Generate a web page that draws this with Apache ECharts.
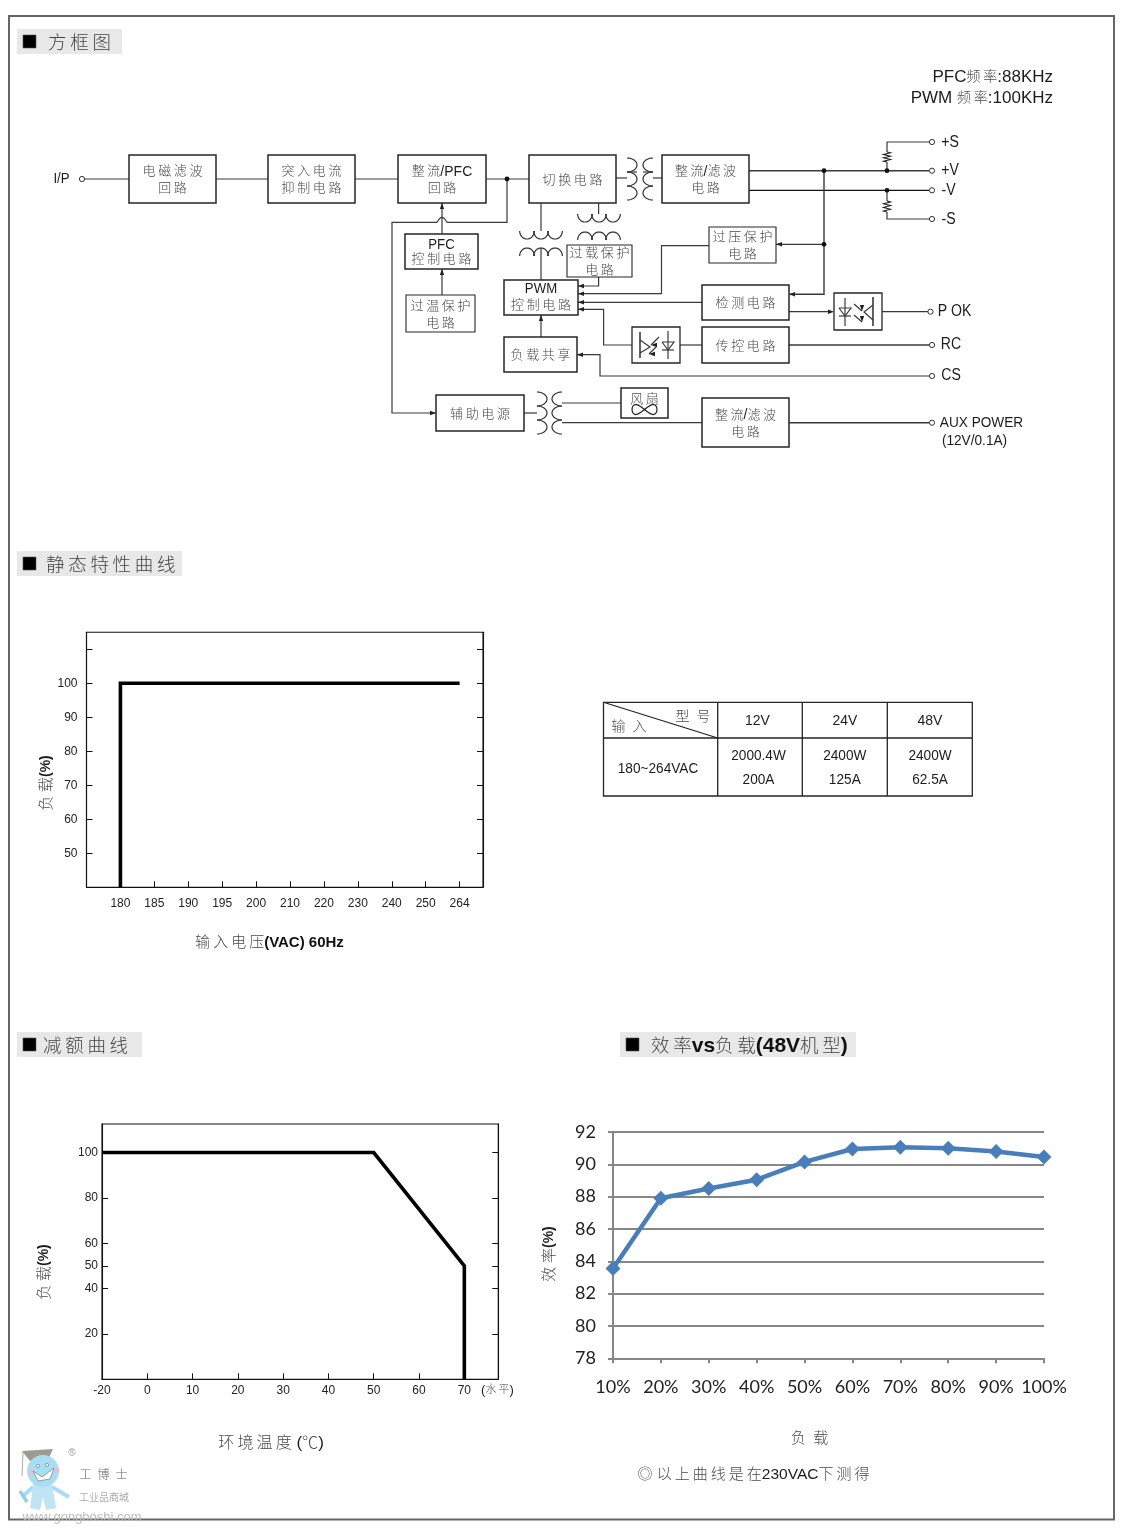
<!DOCTYPE html>
<html><head><meta charset="utf-8">
<style>html,body{margin:0;padding:0;background:#fff}#c{width:1147px;height:1537px}</style>
<script src="https://cdn.jsdelivr.net/npm/echarts@6/dist/echarts.min.js"></script>
</head><body><div id="c"></div>
<script>
// ---- chart data ----
const voltageLabels = ['180','185','190','195','200','210','220','230','240','250','264'];
const staticVoltage = ['180','180','264'];
const staticLoad = [40,100,100];
const staticLoadTicks = [50,60,70,80,90,100];
const staticExtraTick = [110];

const tempLabels = ['-20','0','10','20','30','40','50','60','70'];
const deratingTemp = ['-20','50','70','70'];
const deratingLoad = [100,100,50,0];
const deratingLoadTicks = [20,40,50,60,80,100];

const effLoadLabels = ['10%','20%','30%','40%','50%','60%','70%','80%','90%','100%'];
const effValues = [83.55,87.9,88.5,89.05,90.15,90.95,91.05,91.0,90.8,90.45];

// ---- text content ----
const sectionTitles = ['方框图','静态特性曲线','减额曲线','效率vs负载(48V机型)'];
const tableHeader = ['12V','24V','48V'];
const tableInput = '180~264VAC';
const tablePower = ['2000.4W','2400W','2400W'];
const tableCurrent = ['200A','125A','62.5A'];

const LAT = '"Liberation Sans",Arial,sans-serif';
const CJK = '"Noto Sans CJK SC",sans-serif';
const els = [];
const isCJK = c => /[\u3000-\u9fff◎℃]/.test(c);

function T(text, x, y, size, o) {
  o = o || {};
  const runs = [];
  for (const ch of text) {
    const k = isCJK(ch) ? 'c' : 'l';
    if (runs.length && runs[runs.length-1].k === k) runs[runs.length-1].s += ch;
    else runs.push({k, s: ch});
  }
  const gap = o.gap === undefined ? '\u2009' : o.gap;
  const latSize = o.latSize || size;
  const mixed = runs.length > 1;
  const latinOnly = runs.length === 1 && runs[0].k === 'l';
  const rich = {
    c: {fontFamily: CJK, fontSize: size, fill: o.cjkColor || '#4a4a4a', fontWeight: 300},
    l: {fontFamily: LAT, fontSize: latSize, fill: o.latColor || '#1c1c1c', fontWeight: o.latBold ? 'bold' : 'normal',
        padding: mixed ? [3,0,0,0] : 0}
  };
  const str = runs.map(r => {
    const t = r.k === 'c' ? Array.from(r.s).join(gap) : r.s;
    return '{' + r.k + '|' + t + '}';
  }).join('');
  const sx = o.sx || (latinOnly ? 0.88 : 1);
  els.push({type:'text', silent:true, x, y, rotation:o.rot||0, scaleX:sx, z:30,
    style:{text:str, rich, align:o.align||'center', verticalAlign:'middle'}});
}
function W(pts, w, c) {
  els.push({type:'polyline', silent:true, z:10, shape:{points:pts},
    style:{stroke:c||'#3a3a3a', lineWidth:w||1.2, fill:null}});
}
function R(x0,y0,x1,y1,w,fill,stroke) {
  els.push({type:'rect', silent:true, z:fill?5:12, shape:{x:x0,y:y0,width:x1-x0,height:y1-y0},
    style:{stroke:stroke===undefined?'#262626':stroke, lineWidth:w===undefined?1.4:w, fill:fill||null}});
}
function Dot(x,y,r) { els.push({type:'circle',silent:true,z:15,shape:{cx:x,cy:y,r:r||2.4},style:{fill:'#111'}}); }
function Term(x,y) { els.push({type:'circle',silent:true,z:15,shape:{cx:x,cy:y,r:2.6},style:{fill:'#fff',stroke:'#333',lineWidth:1}}); }
function Arrow(x,y,d) {
  const a=6,b=2.2;
  const p = d==='l'?[[x,y],[x+a,y-b],[x+a,y+b]]:d==='r'?[[x,y],[x-a,y-b],[x-a,y+b]]:d==='u'?[[x,y],[x-b,y+a],[x+b,y+a]]:[[x,y],[x-b,y-a],[x+b,y-a]];
  els.push({type:'polygon',silent:true,z:15,shape:{points:p},style:{fill:'#222'}});
}
function HCoil(x0,yBase,n,bw,h,dir) {
  for(let i=0;i<n;i++){ const p=[]; const cx=x0+bw*(i+.5);
    for(let t=0;t<=16;t++){const a=Math.PI*t/16; p.push([cx-bw/2*1.05*Math.cos(a), yBase+dir*h*Math.sin(a)]);}
    W(p,1.2,'#333'); }
}
function VCoil(xBase,y0,n,bh,w,dir) {
  for(let i=0;i<n;i++){ const p=[]; const cy=y0+bh*(i+.5);
    for(let t=0;t<=16;t++){const a=Math.PI*t/16; p.push([xBase+dir*w*Math.sin(a), cy-bh/2*Math.cos(a)]);}
    W(p,1.2,'#333'); }
}
function Resistor(x,y0,y1){
  const n=6, p=[[x,y0]]; const st=(y1-y0)/n;
  for(let i=0;i<n;i++){ p.push([x+(i%2?-3.5:3.5), y0+st*(i+.5)]); }
  p.push([x,y1]); W(p,1.1,'#222');
}
function Box(x0,y0,x1,y1,lines,o){
  R(x0,y0,x1,y1,(o&&o.w)||1.5);
  o=o||{};
  const cx=(x0+x1)/2, cy=(y0+y1)/2, size=o.size||13, dy=o.dy||17, ox=o.ox||0, oy=o.oy||0;
  lines.forEach((s,i)=>T(s,cx+ox,cy+oy+(i-(lines.length-1)/2)*dy,size,{latSize:o.latSize||14}));
}

// ---- page frame ----
R(9,16,1114,1519.5,2,null,'#666');

// ---- section headers ----
function Header(x0,x1,y0,sqx,title,tx,size,o){
  R(x0,y0,x1,y0+25,0,'#e8e8e8','transparent');
  els.push({type:'rect',silent:true,z:8,shape:{x:sqx,y:y0+6,width:13,height:13},style:{fill:'#000',stroke:'#555',lineWidth:.6}});
  T(title,tx,y0+13,size,Object.assign({align:'left',latBold:true,latColor:'#111',latSize:size,cjkColor:'#444'},o||{}));
}
Header(17,122,29,23,sectionTitles[0],48,18.5,{gap:'\u2009'});
Header(17,182,551,23,sectionTitles[1],46,18.5,{gap:'\u2009'});
Header(17,142,1032,23,sectionTitles[2],43,18.5,{gap:'\u2009'});
Header(620,856,1032,626,sectionTitles[3],651,18.5,{gap:'\u2009',latSize:21});

// ---- frequency note ----
T('PFC频率:88KHz',1053,76,14,{align:'right',latSize:17,gap:'\u2009'});
T('PWM 频率:100KHz',1053,97,14,{align:'right',latSize:17,gap:'\u2009'});

// ---- block diagram ----
T('I/P',61.5,179,14,{latSize:15});
Term(82,179);
W([[85,179],[129,179]]); W([[216,179],[268,179]]); W([[355,179],[398,179]]); W([[486,179],[529,179]]);
Dot(507,179);
Box(129,155,216,203,['电磁滤波','回路']);
Box(268,155,355,203,['突入电流','抑制电路']);
Box(398,155,486,203,['整流/PFC','回路'],{latSize:14});
Box(529,155,616,203,['切换电路'],{});
Box(662,155,749,203,['整流/滤波','电路']);
Box(405,234,478,269,['PFC','控制电路'],{dy:14,latSize:15});
Box(406,295,475,332,['过温保护','电路'],{w:1.1});
Box(504,280,578,315,['PWM','控制电路'],{dy:16,oy:-1,latSize:15});
Box(567,245,632,277,['过载保护','电路'],{w:1.1,dy:17,oy:0});
Box(709,227,776,263,['过压保护','电路'],{w:1.1});
Box(702,285,789,320,['检测电路']);
Box(702,327,789,363,['传控电路']);
Box(504,337,577,372,['负载共享']);
Box(436,395,524,431,['辅助电源']);
Box(702,398,789,447,['整流/滤波','电路']);
Box(621,388,668,418,['风扇'],{oy:-5});

// feed to aux supply with hump over the PFC line
W([[507,179],[507,222.3],[447,222.3]]);
(function(){const p=[];for(let t=0;t<=10;t++){const a=Math.PI*t/10;p.push([447-10*t/10,222.3-5*Math.sin(a)]);}W(p);})();
W([[437,222.3],[392,222.3],[392,413],[436,413]]);
Arrow(436,413,'r');
// PFC links
W([[442,234],[442,203]]); Arrow(442,203,'u');
W([[442,295],[442,269]]); Arrow(442,269,'u');
// switching to PWM transformer
W([[541,203],[541,231]]); HCoil(520,231,3,14,8,1);
HCoil(520,256,3,14,8,-1); W([[541,248],[541,280]]);
// switching to overload transformer
W([[598.6,203],[598.6,214]]); HCoil(578,214,3,14,8,1);
HCoil(578,240,3,14,8,-1);
W([[598.6,277],[598.6,286],[578,286]]); Arrow(578,286,'l');
// main transformer
W([[616,178],[627,178]]); VCoil(627,158,3,14,10,1); VCoil(653,158,3,14,-10,1); W([[653,178],[662,178]]);
W([[627,172],[637,172]]); W([[643,172],[653,172]]);
// outputs
W([[749,170.7],[929,170.7]],1.5); W([[749,190.3],[929,190.3]],1.2,'#111');
Dot(824,170.7); Dot(824,244.3); Dot(887,170.7); Dot(887,190.3);
W([[824,170.7],[824,294.3],[790,294.3]],1.4); Arrow(789,294.3,'l');
W([[824,244.3],[776,244.3]]); Arrow(776,244.3,'l');
W([[929,142],[887,142],[887,152]]); Resistor(887,152,162); W([[887,162],[887,170.7]]);
W([[887,190.3],[887,201]]); Resistor(887,201,212); W([[887,212],[887,219],[929,219]]);
[142,170.7,190.3,219].forEach(y=>Term(932,y));
T('+S',950,142.5,14,{latSize:16}); T('+V',950,170.5,14,{latSize:16}); T('-V',948.5,190.5,14,{latSize:16}); T('-S',948.5,219.5,14,{latSize:16});
// feedback wires into PWM
W([[709,245.7],[661.5,245.7],[661.5,293.7],[578,293.7]]); Arrow(578,293.7,'l');
W([[702,302.3],[578,302.3]]); Arrow(578,302.3,'l');
W([[632,345],[603.6,345],[603.6,309.3],[578,309.3]]); Arrow(578,309.3,'l');
W([[541,337],[541,315]]); Arrow(541,315,'u');
// optocouplers
function Opto(x0,y0,x1,y1){ R(x0,y0,x1,y1,1.3); }
Opto(632,327,680,363);
W([[640,332],[640,358]],1.6);
W([[640,340],[650,347],[640,353]]);
W([[668,331],[668,359]]);
W([[662,342],[674,342],[668,350],[662,342]]); W([[662,350],[674,350]]);
W([[659,337],[651,345]]); Arrow(651,345,'l'); W([[656,347],[649,354]]); Arrow(649,354,'l');
W([[680,345],[702,345]]);
Opto(834,293,882,330);
W([[845,298],[845,326]]);
W([[839,308],[851,308],[845,316],[839,308]]); W([[839,316],[851,316]]);
W([[873,297],[873,326]],1.6);
W([[873,305],[864,312],[873,320]]);
W([[854,304],[862,311]]); Arrow(862,311,'d'); W([[854,315],[862,322]]); Arrow(862,322,'d');
W([[789,311.7],[828,311.7]]); Arrow(834,311.7,'r');
W([[882,311.7],[928,311.7]]); Term(930.5,311.7);
T('P OK',954.5,311.5,14,{latSize:16});
W([[789,345],[929,345]],1.4); Term(932,345); T('RC',951,344.5,14,{latSize:16});
W([[577,354.7],[600,354.7],[600,376],[929,376]]); Arrow(577,354.7,'l'); Term(932,376); T('CS',951,375.5,14,{latSize:16});
// aux transformer
W([[524,413],[537,413]]); VCoil(537,392,3,14,10,1); VCoil(562,392,3,14,-10,1);
W([[562,403],[621,403]]); W([[562,422.7],[702,422.7]]);
W([[789,422.7],[929,422.7]],1.4); Term(932,422.7);
T('AUX POWER',981.5,422.5,14,{latSize:15.5}); T('(12V/0.1A)',974.5,440.5,14,{latSize:15.5});
// fan glyph
(function(){ const p=[]; for(let t=0;t<=24;t++){const a=2*Math.PI*t/24; p.push([644.5+12.5*Math.sin(a), 409.5-5*Math.sin(2*a)]);} W(p,1.2,'#222'); })();

// ---- table ----
const tx=[603.5,717.7,802.3,887.3,972.3], ty=[702.3,738,796];
R(tx[0],ty[0],tx[4],ty[2],1.3);
W([[tx[1],ty[0]],[tx[1],ty[2]]],1.3,'#222'); W([[tx[2],ty[0]],[tx[2],ty[2]]],1.3,'#222'); W([[tx[3],ty[0]],[tx[3],ty[2]]],1.3,'#222');
W([[tx[0],ty[1]],[tx[4],ty[1]]],1.3,'#222');
W([[tx[0],ty[0]],[tx[1],ty[1]]],1.2,'#222');
T('型号',693,716,14,{gap:'\u2002'}); T('输入',629,726,14,{gap:'\u2002'});
const colC=[758.5,844.8,930];
tableHeader.forEach((s,i)=>T(s,colC[i]-(i===0?1:0),721,14,{latSize:15.5,sx:.9}));
tablePower.forEach((s,i)=>T(s,colC[i],756,14,{latSize:15.5,sx:.88}));
tableCurrent.forEach((s,i)=>T(s,colC[i],780,14,{latSize:15.5,sx:.88}));
T(tableInput,658,768.5,14,{latSize:15.5,sx:.88});

// ---- chart captions ----
T('负载(%)',45,783,15,{rot:Math.PI/2,latBold:true,latSize:14,gap:'\u2005'});
T('输入电压(VAC) 60Hz',269.5,941,15,{latBold:true,latSize:15,latColor:'#111',gap:'\u2009'});
T('负载(%)',43,1272,15,{rot:Math.PI/2,latBold:true,latSize:14,gap:'\u2005'});
T('环境温度 (℃)',271,1442,16,{latSize:17,gap:'\u2009'});
T('(水平)',497.5,1389,11,{latSize:13,gap:'\u2009'});
T('效率(%)',548,1254,15,{rot:Math.PI/2,latBold:true,latSize:14,gap:'\u2005'});
T('负载',809.5,1437,15,{gap:'\u2002'});
T('◎ 以上曲线是在230VAC下测得',753.5,1473,15,{latSize:15.5,gap:'\u2009'});

// ---- watermark ----
els.push({type:'polygon',silent:true,z:20,shape:{points:[[22,1451],[53,1449],[47,1462],[30,1461]]},style:{fill:'#9b9b92'}});
W([[23,1452],[22,1476]],1,'#aaa');
els.push({type:'polygon',silent:true,z:20,shape:{points:[[33,1484],[52,1484],[56,1508],[46,1510],[43,1497],[40,1510],[30,1508]]},style:{fill:'#bfe5f5'}});
W([[33,1487],[22,1497]],4,'#a8dcf2'); W([[52,1487],[69,1497]],4,'#a8dcf2');
W([[20,1491],[27,1502]],3.5,'#8fd0ee');
els.push({type:'circle',silent:true,z:21,shape:{cx:43,cy:1471,r:16},style:{fill:'#a8def4'}});
els.push({type:'circle',silent:true,z:22,shape:{cx:31,cy:1472,r:2.5},style:{fill:'#f4b8cf'}});
els.push({type:'circle',silent:true,z:22,shape:{cx:57,cy:1470,r:2.5},style:{fill:'#f4b8cf'}});
els.push({type:'circle',silent:true,z:22,shape:{cx:38,cy:1466,r:1.6},style:{fill:'#fff',stroke:'#666',lineWidth:.6}});
els.push({type:'circle',silent:true,z:22,shape:{cx:47,cy:1465,r:1.6},style:{fill:'#fff',stroke:'#666',lineWidth:.6}});
els.push({type:'polygon',silent:true,z:22,shape:{points:[[33,1471],[42,1477],[54,1468],[50,1479],[38,1481]]},style:{fill:'#fff',stroke:'#666',lineWidth:.6}});
els.push({type:'text',silent:true,z:30,x:72,y:1453,style:{text:'®',fontSize:10,fill:'#999',align:'center',verticalAlign:'middle'}});
T('工博士',103.5,1474.5,12,{gap:'\u2002',cjkColor:'#666'});
T('工业品商城',104,1497,10,{gap:'',cjkColor:'#888'});
els.push({type:'text',silent:true,z:30,x:82,y:1517,style:{text:'www.gongboshi.com',fontFamily:'"Liberation Sans"',fontSize:13,fill:'#bbb',align:'center',verticalAlign:'middle'}});

// ---- charts ----
const axisFont = {fontFamily:LAT,fontSize:12,color:'#222'};
const black = {onZero:false,lineStyle:{color:'#111',width:1.1}};
const grids=[
  {left:86.5,top:632.3,width:396.5,height:255,show:true,borderColor:'#111',borderWidth:1.1,backgroundColor:'transparent'},
  {left:102,top:1124,width:396.3,height:255.3,show:true,borderColor:'#111',borderWidth:1.1,backgroundColor:'transparent'},
  {left:613,top:1132,width:431,height:226.3,show:false}
];
const idx=(labels,arr)=>arr.map(v=>labels.indexOf(v));
const zip=(a,b)=>a.map((v,i)=>[v,b[i]]);
const staticTicks = staticLoadTicks.concat(staticExtraTick);
const voltIdx = voltageLabels.map((_,i)=>i);
const tempIdx = tempLabels.map((_,i)=>i);
const option={
  animation:false,
  backgroundColor:'#fff',
  grid:grids,
  xAxis:[
    {type:'value',gridIndex:0,min:-1,max:10.69,splitLine:{show:false},axisLine:black,
     axisTick:{inside:true,length:6,customValues:voltIdx,lineStyle:{color:'#111'}},
     axisLabel:{customValues:voltIdx,margin:10,...axisFont,formatter:v=>voltageLabels[v]||''}},
    {type:'value',gridIndex:1,min:0,max:8.75,splitLine:{show:false},axisLine:black,
     axisTick:{inside:true,length:6,customValues:tempIdx,lineStyle:{color:'#111'}},
     axisLabel:{customValues:tempIdx,margin:5,...axisFont,formatter:v=>tempLabels[v]||''}},
    {type:'category',gridIndex:2,boundaryGap:false,data:effLoadLabels,
     axisLine:{lineStyle:{color:'#868686',width:2}},
     axisTick:{alignWithLabel:true,length:5,lineStyle:{color:'#868686',width:2}},
     axisLabel:{interval:0,margin:20,fontFamily:'Lato',fontSize:18,color:'#222',showMinLabel:true,showMaxLabel:true},splitLine:{show:false}}
  ],
  yAxis:[
    {type:'value',gridIndex:0,min:40,max:115,splitLine:{show:false},axisLine:black,
     axisTick:{inside:true,length:6,customValues:staticTicks,lineStyle:{color:'#111'}},
     axisLabel:{customValues:staticLoadTicks,margin:9,padding:[4,0,0,0],...axisFont}},
    {type:'value',gridIndex:0,position:'right',min:40,max:115,splitLine:{show:false},axisLine:black,
     axisTick:{inside:true,length:6,customValues:staticTicks,lineStyle:{color:'#111'}},
     axisLabel:{show:false}},
    {type:'value',gridIndex:1,min:0,max:112.6,splitLine:{show:false},axisLine:black,
     axisTick:{inside:true,length:6,customValues:deratingLoadTicks,lineStyle:{color:'#111'}},
     axisLabel:{customValues:deratingLoadTicks,margin:4,padding:[5,0,0,0],...axisFont}},
    {type:'value',gridIndex:1,position:'right',min:0,max:112.6,splitLine:{show:false},axisLine:black,
     axisTick:{inside:true,length:6,customValues:deratingLoadTicks,lineStyle:{color:'#111'}},
     axisLabel:{show:false}},
    {type:'value',gridIndex:2,min:78,max:92,interval:2,
     axisLine:{show:true,onZero:false,lineStyle:{color:'#868686',width:2}},
     axisTick:{show:true,length:5,lineStyle:{color:'#868686',width:2}},
     splitLine:{show:true,lineStyle:{color:'#868686',width:2}},
     axisLabel:{margin:17,fontFamily:'Lato',fontSize:18,color:'#222'}}
  ],
  series:[
    {type:'line',xAxisIndex:0,yAxisIndex:0,showSymbol:false,silent:true,z:5,
     data:zip(idx(voltageLabels,staticVoltage),staticLoad),lineStyle:{color:'#000',width:3.6,cap:'butt',join:'miter'}},
    {type:'line',xAxisIndex:1,yAxisIndex:2,showSymbol:false,silent:true,z:5,
     data:zip(idx(tempLabels,deratingTemp),deratingLoad),lineStyle:{color:'#000',width:3.6,cap:'butt',join:'miter'}},
    {type:'line',xAxisIndex:2,yAxisIndex:4,symbol:'diamond',symbolSize:15,clip:false,silent:true,z:5,
     data:effValues,lineStyle:{color:'#4a7ebb',width:4.5},itemStyle:{color:'#4a7ebb'}}
  ],
  graphic:{elements:els}
};
const chart=echarts.init(document.getElementById('c'),null,{renderer:'canvas',width:1147,height:1537});
chart.setOption(option);
</script>
</body></html>
